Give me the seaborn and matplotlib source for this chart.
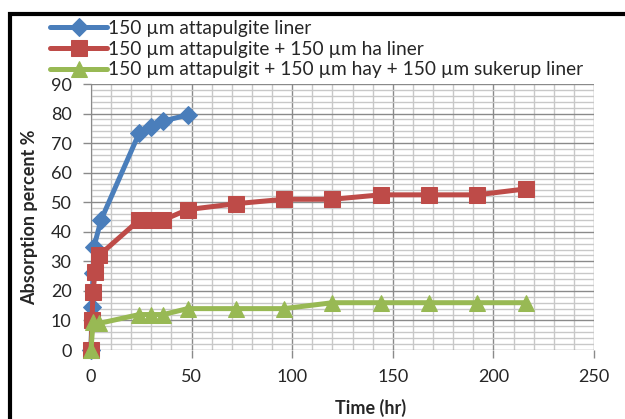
import numpy as np
import pandas as pd
import matplotlib
matplotlib.use("Agg")
import matplotlib.pyplot as plt
from matplotlib.patches import Rectangle
from matplotlib.ticker import MultipleLocator
import seaborn as sns

# data
labels = ["150 µm attapulgite liner",
          "150 µm attapulgite + 150 µm ha liner",
          "150 µm attapulgit + 150 µm hay + 150 µm sukerup liner"]
x_att = [0, 0.5, 1, 1.5, 5, 24, 30, 36, 48]
y_att = [0, 14.5, 26, 35, 44, 73.5, 75.5, 77.5, 79.5]
x_ha = [0, 0.5, 1, 2, 4, 24, 30, 36, 48, 72, 96, 120, 144, 168, 192, 216]
y_ha = [0, 10, 19.5, 26.5, 32, 44, 44, 44, 47.5, 49.5, 51, 51, 52.5, 52.5, 52.5, 54.5]
x_hay = [0, 1, 4, 24, 30, 36, 48, 72, 96, 120, 144, 168, 192, 216]
y_hay = [0, 9.5, 9, 12, 12, 12, 14, 14, 14, 16, 16, 16, 16, 16]
colors = ["#4A7EBB", "#BE4B48", "#98B954"]
markers = ["D", "s", "^"]
msizes = [9, 11, 12]

sns.set_style("white")
plt.rcParams['font.family'] = ['Lato', 'DejaVu Sans']

fig = plt.figure(figsize=(6.25, 4.19), dpi=100)
ax = fig.add_axes([91 / 625, 1 - 350 / 419, (594 - 91) / 625, (350 - 84) / 419])

series = [(x_att, y_att), (x_ha, y_ha), (x_hay, y_hay)]
for (xs, ys), lab, c, m, ms in zip(series, labels, colors, markers, msizes):
    df = pd.DataFrame({"t": xs, "p": ys})
    sns.lineplot(data=df, x="t", y="p", ax=ax, color=c, marker=m, markersize=ms,
                 markeredgecolor=c, linewidth=3.6, label=lab, clip_on=False,
                 zorder=3)

ax.set_xlim(0, 250)
ax.set_ylim(0, 90)
ax.xaxis.set_major_locator(MultipleLocator(50))
ax.xaxis.set_minor_locator(MultipleLocator(10))
ax.yaxis.set_major_locator(MultipleLocator(10))
ax.yaxis.set_minor_locator(MultipleLocator(2))
ax.grid(which="minor", color="#c8c8c8", linewidth=1)
ax.grid(which="major", color="#8a8a8a", linewidth=1)
ax.set_axisbelow(True)
for s in ["top", "right", "bottom"]:
    ax.spines[s].set_visible(False)
ax.spines["left"].set_color("#8a8a8a")
ax.tick_params(axis="both", which="major", direction="out", length=6, width=1,
               color="#8a8a8a", labelsize=13, pad=8)
ax.tick_params(axis="both", which="minor", length=0)
ax.tick_params(axis="x", bottom=True)
ax.tick_params(axis="y", left=True)

ax.set_xlabel("Time (hr)", fontsize=13, fontweight="bold")
ax.set_ylabel("Absorption percent %", fontsize=13, fontweight="bold")
ax.xaxis.set_label_coords((371 - 91) / (594 - 91), -(408 - 350) / (350 - 84), transform=ax.transAxes)
ax.xaxis.label.set_va("center")
ax.yaxis.set_label_coords(-(91 - 30) / (594 - 91), 0.5)
ax.yaxis.label.set_va("center")

ax.get_legend().remove()
handles, labs = ax.get_legend_handles_labels()
fig.legend(handles, labs, loc="upper left", bbox_to_anchor=(46 / 625, 1 - 16 / 419),
           frameon=False, fontsize=13.8, handlelength=3.0, handletextpad=0.05,
           labelspacing=0.2, borderaxespad=0, borderpad=0.2)

fig.patches.append(Rectangle((9.5 / 625, -0.1), 1.2, 1.1 - 14.5 / 419,
                             transform=fig.transFigure, fill=False,
                             edgecolor="black", linewidth=3))

fig.savefig("out.png", dpi=100)
